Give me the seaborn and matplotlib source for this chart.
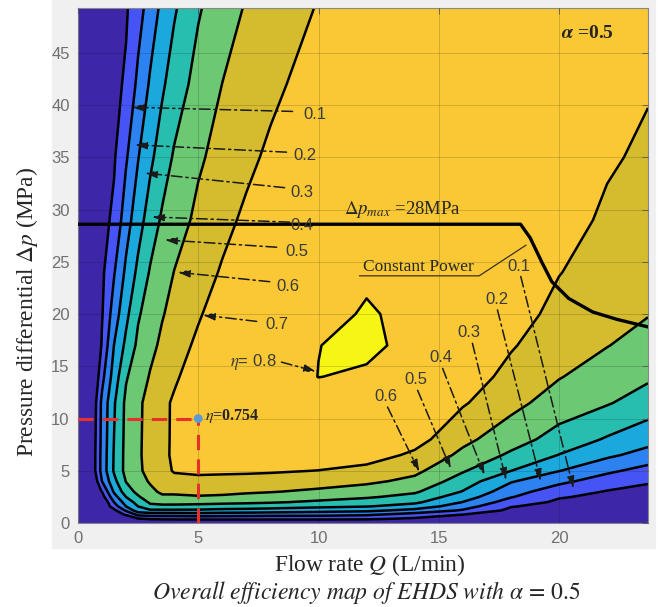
import numpy as np
import matplotlib
matplotlib.use("Agg")
import matplotlib.pyplot as plt
import seaborn as sns
from matplotlib.patches import Rectangle

# ---------------- data ----------------
flow_rate = [0, 0.5, 1.0, 1.5, 2.0, 2.5, 3.0, 3.5, 4.0, 5.0, 6.0, 7.0, 8.0,
             10.0, 12.0, 14.0, 16.0, 18.0, 20.0, 22.0, 23.7]
pressure = [0, 0.4, 0.8, 1.2, 1.6, 2.0, 2.5, 3.0, 4.0, 5.0, 6.5, 8.0, 11.5,
            14, 17, 20, 24, 29, 35, 42, 49.3]

# efficiency at each pressure row (columns follow flow_rate)
eta_p0_0 = [0]*21
eta_p0_4 = [0, .015, .03, .045, .065, .09, .11, .115, .118, .12, .12, .12, .12, .12, .115, .085, .05, .026, .017, .012, .01]
eta_p0_8 = [0, .025, .05, .075, .105, .225, .24, .24, .24, .25, .243, .24, .233, .229, .214, .157, .099, .052, .033, .025, .021]
eta_p1_2 = [0, .031, .063, .075, .214, .357, .383, .383, .383, .383, .370, .365, .357, .338, .322, .271, .189, .077, .05, .038, .031]
eta_p1_6 = [0, .0, .0, .153, .302, .402, .478, .478, .478, .470, .460, .455, .445, .423, .406, .360, .247, .106, .067, .05, .042]
eta_p2_0 = [0, .0, .0, .202, .344, .438, .515, .532, .532, .531, .525, .518, .510, .485, .456, .420, .298, .153, .083, .063, .052]
eta_p2_5 = [0, .03, .06, .26, .402, .488, .559, .584, .584, .594, .588, .573, .560, .536, .512, .470, .348, .207, .108, .078, .065]
eta_p3_0 = [0, .05, .102, .314, .45, .528, .575, .618, .618, .622, .620, .613, .605, .582, .552, .513, .395, .240, .146, .094, .078]
eta_p4_0 = [0, -.053, .202, .371, .505, .558, .611, .663, .669, .671, .668, .664, .658, .644, .620, .575, .454, .309, .224, .152, .108]
eta_p5_0 = [0, -.005, .235, .412, .530, .584, .628, .668, .708, .720, .717, .715, .711, .698, .670, .623, .509, .401, .303, .219, .164]
eta_p6_5 = [0, -.005, .233, .408, .530, .587, .633, .675, .717, .76, .76, .76, .76, .76, .745, .681, .577, .483, .397, .319, .261]
eta_p8_0 = [0, -.01, .229, .402, .528, .586, .632, .674, .716, .76, .76, .76, .76, .76, .76, .738, .624, .544, .460, .390, .337]
eta_p11_5 = [0, -.024, .224, .389, .523, .583, .631, .673, .715, .76, .76, .76, .76, .76, .76, .76, .71, .629, .556, .508, .454]
eta_p14 = [0, -.066, .171, .345, .491, .553, .607, .645, .683, .76, .76, .76, .76, .801, .790, .775, .76, .666, .605, .553, .515]
eta_p17 = [0, -.10, .113, .302, .424, .522, .575, .618, .652, .721, .76, .76, .76, .799, .815, .78, .76, .710, .635, .603, .564]
eta_p20 = [0, .046, .093, .248, .375, .489, .545, .594, .627, .689, .752, .76, .76, .78, .806, .785, .76, .754, .664, .622, .604]
eta_p24 = [0, .040, .081, .193, .321, .423, .509, .555, .602, .655, .710, .76, .76, .76, .79, .76, .76, .76, .704, .647, .623]
eta_p29 = [0, .035, .069, .119, .257, .359, .446, .514, .555, .622, .671, .719, .76, .76, .76, .76, .76, .76, .753, .678, .648]
eta_p35 = [0, .030, .060, .090, .189, .296, .379, .451, .511, .586, .634, .676, .719, .76, .76, .76, .76, .76, .76, .716, .677]
eta_p42 = [0, .026, .051, .077, .112, .225, .312, .385, .447, .536, .601, .638, .675, .749, .76, .76, .76, .76, .76, .76, .711]
eta_p49_3 = [0, .022, .045, .067, .090, .157, .248, .322, .388, .490, .555, .608, .641, .706, .76, .76, .76, .76, .76, .76, .746]

eta_levels = [0.1, 0.2, 0.3, 0.4, 0.5, 0.6, 0.7, 0.8]

# operating-limit boundary (max pressure + constant power)
limit_Q = [0, 18.4, 18.8, 19.3, 19.7, 20.4, 21.4, 22.4, 24.0]
limit_p = [28.6, 28.6, 27.3, 24.9, 23.1, 21.5, 20.2, 19.5, 18.6]

# marked operating point
point_Q = [5.0]
point_p = [10.0]
point_eta = 0.754

x_ticks = [0, 5, 10, 15, 20]
y_ticks = [0, 5, 10, 15, 20, 25, 30, 35, 40, 45]

# ---------------- figure ----------------
sns.set_style("white")
plt.rcParams["font.family"] = ["Liberation Sans", "DejaVu Sans"]
plt.rcParams["mathtext.fontset"] = "stix"

eta = np.array([eta_p0_0, eta_p0_4, eta_p0_8, eta_p1_2, eta_p1_6, eta_p2_0,
                eta_p2_5, eta_p3_0, eta_p4_0, eta_p5_0, eta_p6_5, eta_p8_0,
                eta_p11_5, eta_p14, eta_p17, eta_p20, eta_p24, eta_p29,
                eta_p35, eta_p42, eta_p49_3])
QQ, PP = np.meshgrid(flow_rate, pressure)

fig = plt.figure(figsize=(6.59, 6.07), dpi=100)
bg = Rectangle((52 / 659, 1 - 548 / 607), (655 - 52) / 659, 548 / 607,
               transform=fig.transFigure, color="#f0f0f0", zorder=-10)
fig.add_artist(bg)
ax = fig.add_axes([78 / 659, 1 - 523 / 607, (648 - 78) / 659, (523 - 8) / 607])
ax.set_zorder(1)

band_colors = ["#3e26a8", "#4654f5", "#2b82f0", "#1ba8dc", "#27bdaf",
               "#6cc872", "#d4bc2e", "#f9c834", "#f7f514"]
ax.contourf(QQ, PP, eta, levels=[-1] + eta_levels + [1.5], colors=band_colors, zorder=1)
ax.contour(QQ, PP, eta, levels=eta_levels, colors="k", linewidths=1.8, zorder=2)

ax.set_xlim(0, 23.7)
ax.set_ylim(0, 49.3)
ax.set_xticks(x_ticks)
ax.set_yticks(y_ticks)
ax.grid(True, color="k", alpha=0.15, lw=0.7, zorder=3)
ax.set_axisbelow(False)
ax.tick_params(direction="in", length=4, width=0.6, colors="#555555",
               labelsize=12, labelcolor="#707070", top=True, right=True, pad=6)
for s in ax.spines.values():
    s.set_color("#888888")
    s.set_linewidth(0.8)

# limit lines
sns.lineplot(x=limit_Q, y=limit_p, ax=ax, color="k", lw=2.4, sort=False, zorder=5)

# operating point
ax.plot([0, point_Q[0]], [point_p[0], point_p[0]], color="#e8302a", lw=2.2,
        dashes=(5, 3), zorder=6)
ax.plot([point_Q[0], point_Q[0]], [0, point_p[0]], color="#e8302a", lw=2.2,
        dashes=(5, 3), zorder=6)
sns.scatterplot(x=point_Q, y=point_p, ax=ax, color="#5b9bd5", s=40, zorder=7,
                edgecolor="none")
ax.text(5.3, 10.25, r"$\eta$=%.3f" % point_eta, fontsize=11.5, fontweight="bold",
        family="Liberation Serif", va="center", ha="left", zorder=8)

dash = (0, (7, 2.5, 1.5, 2.5))


def lab(txt, tx, ty, x0, y0, x1, y1):
    ax.annotate("", xy=(x1, y1), xytext=(x0, y0),
                arrowprops=dict(arrowstyle="-|>,head_length=0.7,head_width=0.22",
                                lw=1.1, ls=dash, color="#1a1a1a",
                                shrinkA=0, shrinkB=0), zorder=8)
    ax.text(tx, ty, txt, fontsize=12, color="#3a3a3a", ha="center", va="center",
            zorder=9)


# left-side labels
lab("0.1", 9.83, 39.1, 8.92, 39.4, 2.24, 39.8)
lab("0.2", 9.42, 35.2, 8.67, 35.5, 2.37, 36.2)
lab("0.3", 9.29, 31.6, 8.59, 32.1, 2.78, 33.5)
lab("0.4", 9.29, 28.5, 8.80, 28.8, 3.07, 29.3)
lab("0.5", 9.08, 26.0, 8.26, 26.4, 3.61, 27.1)
lab("0.6", 8.71, 22.6, 7.97, 23.1, 4.15, 24.0)
lab("0.7", 8.26, 19.0, 7.43, 19.3, 5.19, 19.9)
# right-side labels
lab("0.6", 12.80, 12.1, 12.87, 11.1, 14.19, 4.9)
lab("0.5", 14.05, 13.7, 14.12, 12.7, 15.50, 5.2)
lab("0.4", 15.10, 15.8, 15.16, 14.8, 16.90, 4.6)
lab("0.3", 16.27, 18.2, 16.40, 17.2, 17.80, 4.1)
lab("0.2", 17.40, 21.4, 17.44, 20.4, 19.24, 4.0)
lab("0.1", 18.34, 24.6, 18.41, 23.6, 20.60, 3.3)

# eta = 0.8 island label
ax.annotate("", xy=(9.9, 14.5), xytext=(8.46, 15.4),
            arrowprops=dict(arrowstyle="-|>,head_length=0.7,head_width=0.22",
                            lw=1.1, ls=dash, color="#1a1a1a", shrinkA=0, shrinkB=0),
            zorder=8)
ax.text(7.3, 15.4, r"$\eta$= 0.8", fontsize=12, color="#3a3a3a", ha="center",
        va="center", zorder=9)

ax.text(11.08, 30.0, r"$\Delta p_{max}$ =28MPa", fontsize=13.5,
        family="Liberation Serif", ha="left", va="center", zorder=9)
ax.text(14.15, 24.5, "Constant Power", fontsize=12.5, family="Liberation Serif",
        ha="center", va="center", zorder=9)
ax.plot([11.7, 16.68, 18.63], [23.66, 23.66, 26.6], color="#3a3020", lw=0.9, zorder=8)
ax.text(20.1, 46.9, r"$\boldsymbol{\alpha}$ =0.5", fontsize=14, fontweight="bold",
        family="Liberation Serif", ha="left", va="center", zorder=9)

fig.text(27 / 659, 1 - 312 / 607, r"Pressure differential $\mathit{\Delta p}$ (MPa)",
         rotation=90, fontsize=16.8, family="Liberation Serif", ha="center", va="center")
fig.text(370 / 659, 1 - 565 / 607, r"Flow rate $\mathit{Q}$ (L/min)",
         fontsize=16.8, family="Liberation Serif", ha="center", va="center")
fig.text(366 / 659, 1 - 592 / 607,
         r"$\mathit{Overall\ efficiency\ map\ of\ EHDS\ with}\ \mathit{\alpha}\,{=}\,\mathrm{0.5}$",
         fontsize=17, ha="center", va="center")

fig.savefig("out.png", dpi=100)
